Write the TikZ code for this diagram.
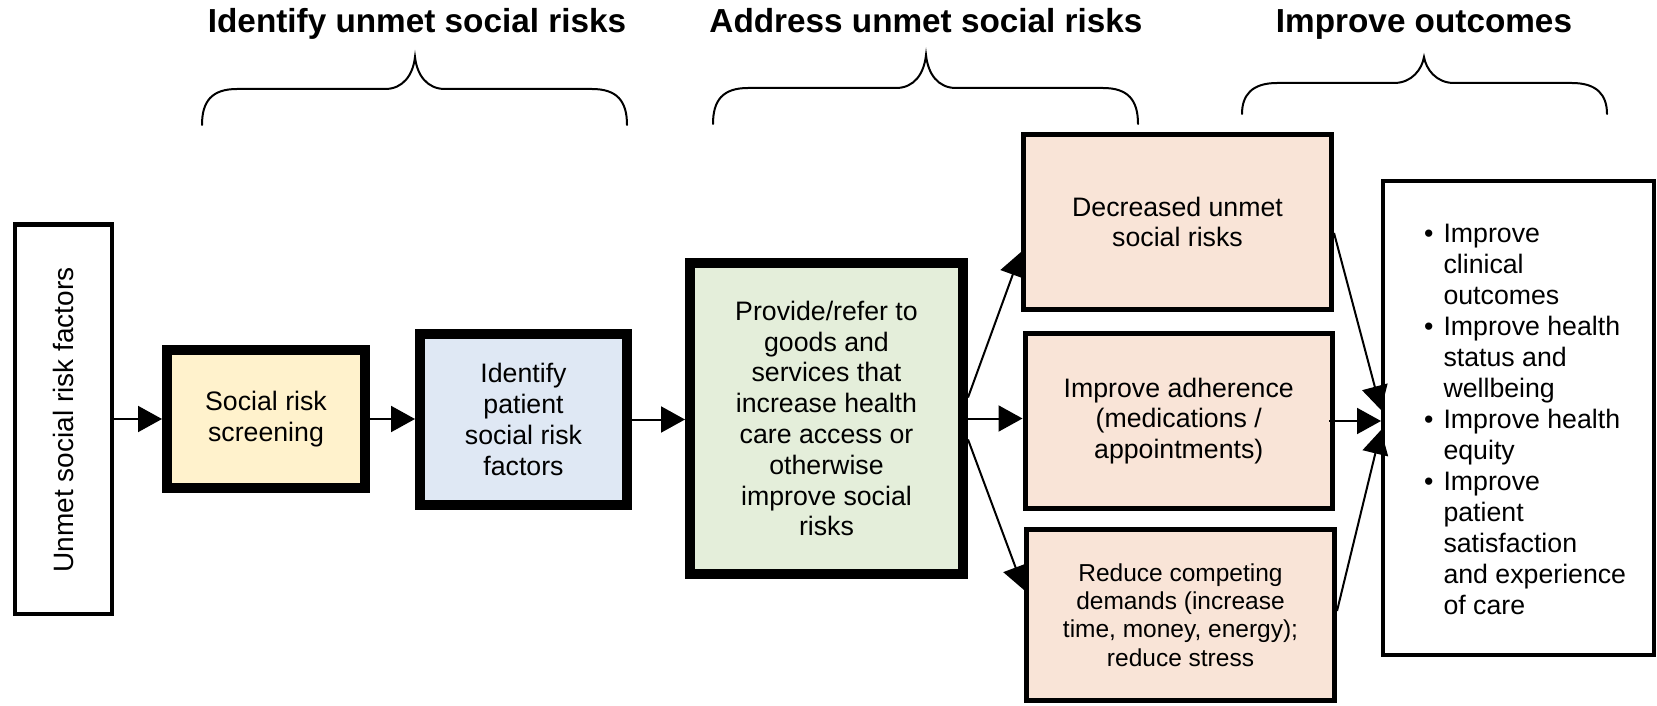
\documentclass[tikz,border=0pt]{standalone}
\usepackage{fontspec}
\setmainfont{Liberation Sans}
\usetikzlibrary{arrows.meta}
\definecolor{cyel}{HTML}{FFF2CC}
\definecolor{cblue}{HTML}{DFE8F4}
\definecolor{cgreen}{HTML}{E4EEDA}
\definecolor{cpeach}{HTML}{F9E4D7}
\tikzset{
  thinbox/.style={draw=black, line width=4.5pt, align=center, inner sep=0pt},
  thickbox/.style={draw=black, line width=10pt, align=center, inner sep=0pt},
  arr/.style={line width=2pt, -{Triangle[length=24pt,width=26pt]}},
  bracepath/.style={line width=2pt, line cap=round},
  titletext/.style={font=\fontsize{33.3}{40}\selectfont\bfseries, anchor=base},
  boxtext/.style={font=\fontsize{26.7}{30.8}\selectfont},
  smalltext/.style={font=\fontsize{24.5}{28.2}\selectfont},
}
\newcommand\cbrace[6]{% x1, xm, x2, ytip, yh, ybot
  \draw[bracepath] (#1,#6) .. controls (#1,#5+12) and (#1+10,#5) .. (#1+35,#5)
    -- (#2-30,#5) .. controls (#2-12,#5) and (#2-2,#5-14) .. (#2,#4)
    .. controls (#2+2,#5-14) and (#2+12,#5) .. (#2+30,#5)
    -- (#3-35,#5) .. controls (#3-10,#5) and (#3,#5+12) .. (#3,#6);}
\begin{document}
\begin{tikzpicture}[x=1pt,y=-1pt]
\useasboundingbox (0,0) rectangle (1657,706);

% titles
\node[titletext] (t1) at (417,33) {Identify unmet social risks};
\node[titletext] (t2) at (926,33) {Address unmet social risks};
\node[titletext] (t3) at (1424,33) {Improve outcomes};

% braces
\cbrace{202}{415}{627}{57}{89}{125}
\cbrace{713}{926}{1138}{55}{88}{124}
\cbrace{1242}{1424}{1607}{57}{83}{114}

% boxes
\node[thinbox, fill=white, minimum width=97pt, minimum height=389.5pt] (unmet) at (63.25,419) {};
\node[rotate=90, font=\fontsize{28}{32}\selectfont] (unmetlbl) at (63.25,420) {Unmet social risk factors};

\node[thickbox, fill=cyel, minimum width=198pt, minimum height=138pt, boxtext] (social) at (266,419) {Social risk\\screening};
\node[thickbox, fill=cblue, minimum width=207pt, minimum height=171pt, boxtext] (ident) at (523.5,419.5) {Identify\\patient\\social risk\\factors};
\node[thickbox, fill=cgreen, minimum width=273pt, minimum height=311pt, boxtext] (green) at (826.5,418.5) {Provide/refer to\\goods and\\services that\\increase health\\care access or\\otherwise\\improve social\\risks};

\node[thinbox, line width=5pt, fill=cpeach, minimum width=308pt, minimum height=175pt, boxtext] (dec) at (1177.5,222) {Decreased unmet\\social risks};
\node[thinbox, line width=5pt, fill=cpeach, minimum width=307.5pt, minimum height=175pt, boxtext] (adh) at (1178.75,421) {Improve adherence\\(medications /\\appointments)};
\node[thinbox, line width=5pt, fill=cpeach, minimum width=308pt, minimum height=171pt, smalltext] (red) at (1180.5,615) {Reduce competing\\demands (increase\\time, money, energy);\\reduce stress};

\node[thinbox, line width=4pt, fill=white, minimum width=271pt, minimum height=474pt] (outc) at (1518.5,418) {};
\node[anchor=west, align=left, boxtext, font=\fontsize{26.7}{31}\selectfont] (outlist) at (1440,419.5)
  {\llap{\textbullet\hspace{10pt}}Improve\\clinical\\outcomes\\
   \llap{\textbullet\hspace{10pt}}Improve health\\status and\\wellbeing\\
   \llap{\textbullet\hspace{10pt}}Improve health\\equity\\
   \llap{\textbullet\hspace{10pt}}Improve\\patient\\satisfaction\\and experience\\of care};

% arrows
\draw[arr] (unmet.east) -- (social.west |- unmet.east);
\draw[arr] (social.east) -- (ident.west |- social.east);
\draw[arr] (ident.east) -- (green.west |- ident.east);
\draw[arr] (green.east) -- (adh.west |- green.east);
\draw[arr] ([yshift=21pt]green.east) -- ([yshift=-30pt]dec.west);
\draw[arr] ([yshift=-21pt]green.east) -- ([yshift=25pt]red.west);
\draw[arr] ([xshift=-6pt]adh.east) -- (outc.west |- adh.east);
\draw[arr] ([yshift=-11pt]dec.east) -- ([yshift=8pt]outc.west);
\draw[arr] ([yshift=4pt]red.east) -- ([yshift=-12pt]outc.west);
\end{tikzpicture}
\end{document}
